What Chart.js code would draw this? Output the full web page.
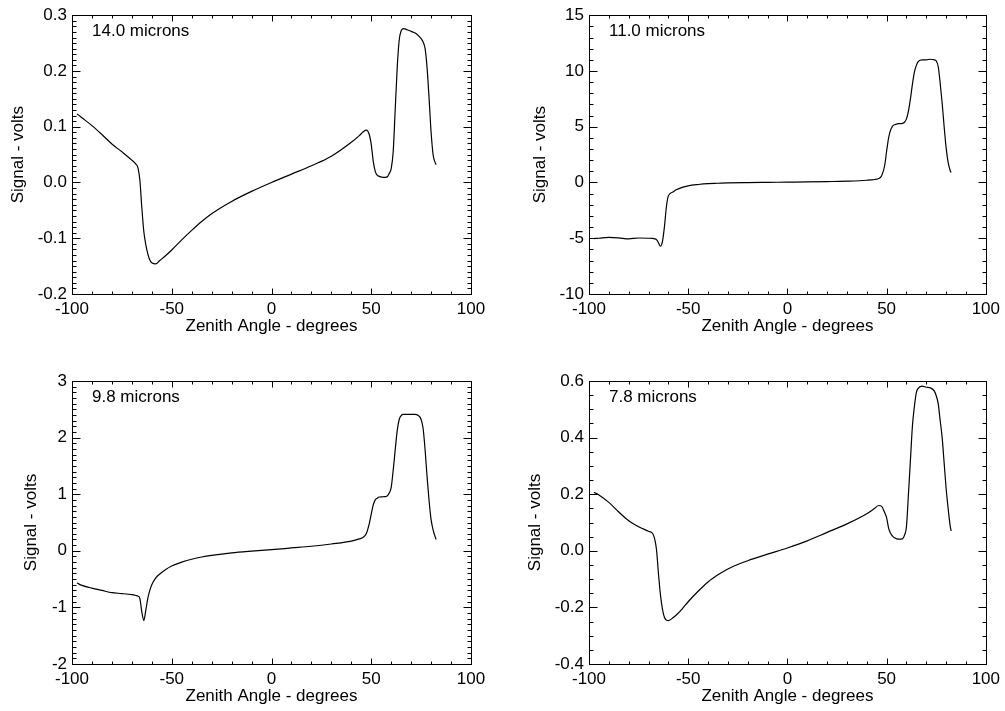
<!DOCTYPE html>
<html>
<head>
<meta charset="utf-8">
<script src="https://cdn.jsdelivr.net/npm/chart.js@4.4.1/dist/chart.umd.min.js"></script>
<style>
  body { margin: 0; background: #fff; }
  #wrap { position: relative; width: 1005px; height: 711px; background: #fff; }
  #wrap canvas { position: absolute; }
</style>
</head>
<body>
<div id="wrap">
  <canvas id="c14" width="502" height="340" style="left:0px;top:0px"></canvas>
  <canvas id="c11" width="503" height="340" style="left:502px;top:0px"></canvas>
  <canvas id="c98" width="502" height="371" style="left:0px;top:340px"></canvas>
  <canvas id="c78" width="503" height="371" style="left:502px;top:340px"></canvas>
</div>
<script>
// zenith angle (degrees), shared by the four channels
var angles = [-97.5, -95, -90, -85, -80, -75, -70, -68, -67, -66,
  -65, -64, -63, -62, -61, -60, -58, -56, -53, -50,
  -45, -40, -35, -30, -20, -10, 0, 10, 20, 30,
  40, 44, 46, 47.5, 49, 50, 51, 52, 53, 54,
  56, 58, 59, 60, 61, 62, 63, 64, 65, 66,
  68, 70, 72, 74, 75, 76, 77, 78, 79, 80,
  81, 82, 82.5];

// signal (volts) per channel
var signal14 = [0.123, 0.116, 0.102, 0.086, 0.069, 0.055, 0.040, 0.033, 0.027, 0.005,
  -0.045, -0.088, -0.112, -0.128, -0.139, -0.144, -0.146, -0.140, -0.131, -0.121,
  -0.103, -0.086, -0.070, -0.056, -0.034, -0.016, 0.000, 0.015, 0.030, 0.047,
  0.072, 0.084, 0.091, 0.094, 0.086, 0.068, 0.038, 0.020, 0.013, 0.011,
  0.009, 0.010, 0.016, 0.025, 0.055, 0.130, 0.205, 0.255, 0.272, 0.276,
  0.274, 0.271, 0.268, 0.262, 0.258, 0.252, 0.240, 0.205, 0.150, 0.090,
  0.050, 0.036, 0.032];

var signal11 = [-5.03, -5.00, -4.92, -4.97, -5.06, -4.98, -5.00, -5.02, -5.05, -5.12,
  -5.40, -5.72, -5.30, -4.00, -2.20, -1.20, -0.88, -0.66, -0.44, -0.30,
  -0.18, -0.10, -0.07, -0.04, -0.01, 0.01, 0.03, 0.05, 0.08, 0.12,
  0.20, 0.27, 0.35, 0.60, 1.50, 2.80, 4.00, 4.70, 5.05, 5.18,
  5.27, 5.30, 5.40, 5.70, 6.40, 7.50, 8.80, 9.90, 10.50, 10.85,
  11.00, 11.00, 11.05, 11.00, 10.90, 10.40, 8.90, 7.10, 5.00, 3.10,
  1.80, 1.10, 0.90];

var signal98 = [-0.57, -0.61, -0.66, -0.70, -0.74, -0.755, -0.775, -0.79, -0.80, -0.84,
  -1.08, -1.23, -1.05, -0.84, -0.70, -0.60, -0.48, -0.41, -0.33, -0.27,
  -0.20, -0.15, -0.11, -0.08, -0.035, -0.005, 0.02, 0.05, 0.08, 0.12,
  0.17, 0.21, 0.24, 0.30, 0.48, 0.65, 0.81, 0.90, 0.93, 0.95,
  0.955, 0.97, 1.02, 1.12, 1.42, 1.78, 2.12, 2.32, 2.39, 2.41,
  2.41, 2.41, 2.41, 2.38, 2.32, 2.16, 1.78, 1.30, 0.88, 0.55,
  0.37, 0.25, 0.20];

var signal78 = [0.207, 0.197, 0.171, 0.137, 0.106, 0.085, 0.069, 0.062, 0.045, 0.005,
  -0.080, -0.155, -0.205, -0.235, -0.245, -0.247, -0.238, -0.227, -0.205, -0.180,
  -0.143, -0.110, -0.085, -0.064, -0.035, -0.012, 0.010, 0.035, 0.065, 0.095,
  0.131, 0.150, 0.160, 0.157, 0.135, 0.117, 0.080, 0.062, 0.052, 0.046,
  0.041, 0.042, 0.055, 0.085, 0.200, 0.320, 0.440, 0.510, 0.560, 0.575,
  0.582, 0.578, 0.576, 0.565, 0.548, 0.520, 0.460, 0.400, 0.310, 0.220,
  0.150, 0.090, 0.070];

var xTicks = [-100, 100, 50];   // min, max, step
var xTitle = 'Zenith Angle - degrees';
var yTitle = 'Signal - volts';

Chart.defaults.font.family = '"Liberation Sans", Arial, Helvetica, sans-serif';
Chart.defaults.font.size = 17;
Chart.defaults.color = '#000';

// box round the plot, inward IDL style ticks, channel label
const framePlugin = {
  id: 'frame',
  afterDraw(chart, args, opts) {
    const ctx = chart.ctx;
    const a = chart.chartArea;
    const xs = chart.scales.x;
    const ys = chart.scales.y;
    const L = Math.round(a.left) + 0.5, R = Math.round(a.right) + 0.5;
    const T = Math.round(a.top) + 0.5, B = Math.round(a.bottom) + 0.5;
    ctx.save();
    ctx.strokeStyle = '#000';
    ctx.lineWidth = 1;
    ctx.strokeRect(L, T, R - L, B - T);
    ctx.beginPath();
    let n = Math.round((xs.max - xs.min) / opts.xMinor);
    for (let i = 0; i <= n; i++) {
      const v = xs.min + i * opts.xMinor;
      const px = Math.round(xs.getPixelForValue(v)) + 0.5;
      const r = v / opts.xMajor;
      const len = Math.abs(r - Math.round(r)) < 1e-6 ? 6 : 3;
      ctx.moveTo(px, B); ctx.lineTo(px, B - len);
      ctx.moveTo(px, T); ctx.lineTo(px, T + len);
    }
    n = Math.round((ys.max - ys.min) / opts.yMinor);
    for (let i = 0; i <= n; i++) {
      const v = ys.min + i * opts.yMinor;
      const py = Math.round(ys.getPixelForValue(v)) + 0.5;
      const r = v / opts.yMajor;
      const len = Math.abs(r - Math.round(r)) < 1e-6 ? 8 : 4;
      ctx.moveTo(L, py); ctx.lineTo(L + len, py);
      ctx.moveTo(R, py); ctx.lineTo(R - len, py);
    }
    ctx.stroke();
    ctx.fillStyle = '#000';
    ctx.font = '17px "Liberation Sans", Arial, sans-serif';
    ctx.textBaseline = 'middle';
    ctx.fillText(opts.label, a.left + 20, a.top + 16);
    ctx.restore();
  }
};

function makePanel(id, values, label, yMin, yMax, yStep, yMinor, decimals, box) {
  var points = angles.map(function (a, i) { return { x: a, y: values[i] }; });
  return new Chart(document.getElementById(id), {
    type: 'line',
    data: {
      datasets: [{
        data: points,
        borderColor: '#000',
        borderWidth: 1.2,
        pointRadius: 0,
        fill: false,
        cubicInterpolationMode: 'monotone'
      }]
    },
    options: {
      responsive: false,
      animation: false,
      events: [],
      layout: { padding: { top: box.top, right: box.right, left: 0, bottom: 0 } },
      plugins: {
        legend: { display: false },
        tooltip: { enabled: false },
        frame: { label: label, xMajor: xTicks[2], xMinor: 10, yMajor: yStep, yMinor: yMinor }
      },
      scales: {
        x: {
          type: 'linear',
          min: xTicks[0],
          max: xTicks[1],
          grid: { display: false, drawTicks: false },
          border: { display: false },
          ticks: { stepSize: xTicks[2], padding: 5, maxRotation: 0, autoSkip: false },
          title: { display: true, text: xTitle, padding: { top: 0, bottom: box.xPad } },
          afterFit: function (s) { s.height = box.xHeight; }
        },
        y: {
          min: yMin,
          max: yMax,
          grid: { display: false, drawTicks: false },
          border: { display: false },
          ticks: {
            stepSize: yStep,
            padding: 5,
            autoSkip: false,
            callback: function (v) {
              if (Math.abs(v) < 1e-9) v = 0;
              return v.toFixed(decimals);
            }
          },
          title: { display: true, text: yTitle, padding: { top: box.yPad, bottom: 0 } },
          afterFit: function (s) { s.width = box.yWidth; }
        }
      }
    },
    plugins: [framePlugin]
  });
}

makePanel('c14', signal14, '14.0 microns', -0.2, 0.3, 0.1, 0.01, 1,
  { top: 11, right: 31, yWidth: 72, xHeight: 46, yPad: 8, xPad: 3 });
makePanel('c11', signal11, '11.0 microns', -10, 15, 5, 1, 0,
  { top: 11, right: 16, yWidth: 87, xHeight: 46, yPad: 28, xPad: 3 });
makePanel('c98', signal98, '9.8 microns', -2, 3, 1, 0.1, 0,
  { top: 41, right: 31, yWidth: 72, xHeight: 47, yPad: 21, xPad: 4 });
makePanel('c78', signal78, '7.8 microns', -0.4, 0.6, 0.2, 0.05, 1,
  { top: 41, right: 16, yWidth: 87, xHeight: 47, yPad: 23, xPad: 4 });
</script>
</body>
</html>
